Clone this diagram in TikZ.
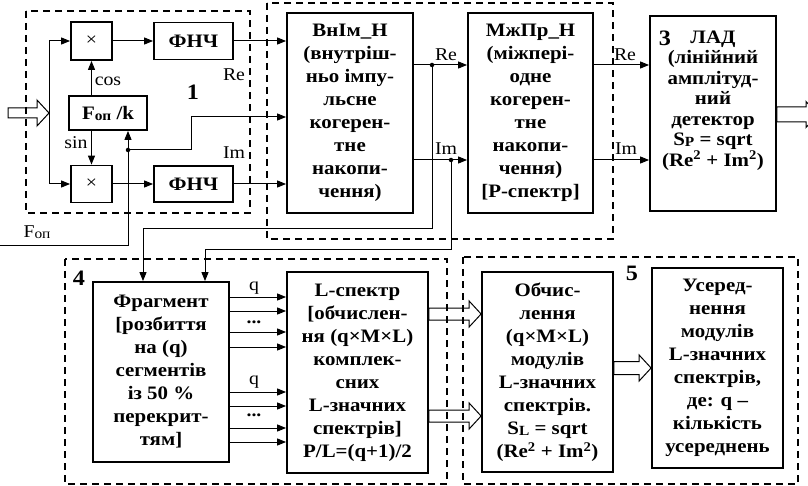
\documentclass[tikz,border=0pt]{standalone}
\usepackage{fontspec}
\setmainfont{Liberation Serif}[FakeStretch=1.1]
\usetikzlibrary{arrows.meta,calc}

\newcommand{\idx}[1]{\raisebox{-1pt}{\fontsize{14}{14}\selectfont #1}}
\newcommand{\fatarrow}[3]{%
  \draw[fat] let \p1=#1, \p2=#2 in
    (\x1,\y1+#3) -- (\x2-12pt,\y1+#3) -- (\x2-12pt,\y1+13pt) -- (\x2,\y1)
    -- (\x2-12pt,\y1-13pt) -- (\x2-12pt,\y1-#3) -- (\x1,\y1-#3) -- cycle;}

\begin{document}
\begin{tikzpicture}[x=1pt, y=-1pt,
    block/.style={draw, line width=1.8pt, inner sep=0pt, align=center,
      font=\bfseries\fontsize{19}{23}\selectfont},
    group/.style={draw, line width=1.4pt, dash pattern=on 7pt off 5pt},
    wire/.style={line width=1pt},
    arr/.style={wire, -{Triangle[length=9pt, width=7pt]}},
    fat/.style={line width=1pt},
    dot/.style={circle, fill, inner sep=0pt, minimum size=4.5pt},
    lbl/.style={font=\fontsize{18}{18}\selectfont},
    num/.style={font=\bfseries\fontsize{22}{22}\selectfont}]
    \useasboundingbox (0,0) rectangle (808,486);

    % groups
    \draw[group] (26,11) rectangle (250,213);
    \draw[group] (267,3) rectangle (613,239);
    \draw[group] (65,259) rectangle (447,484);
    \draw[group] (463,257) rectangle (798,484);
    \node[num] (num-1) at (193,92) {1};
    \node[num] (num-3) at (665,38) {3};
    \node[num] (num-4) at (79,278) {4};
    \node[num] (num-5) at (632,273) {5};

    % quadrature part
    \node[block, font=\fontsize{18}{18}\selectfont, minimum width=41pt, minimum height=38pt] (mul-re) at (91.5,41) {×};
    \node[block, minimum width=79pt, minimum height=37pt] (lpf-re) at (193.5,41) {ФНЧ};
    \node[block, minimum width=78pt, minimum height=34pt] (osc) at (108,113) {F\idx{оп} /k};
    \node[block, font=\fontsize{18}{18}\selectfont, minimum width=41pt, minimum height=37pt] (mul-im) at (91.5,184) {×};
    \node[block, minimum width=79pt, minimum height=36pt] (lpf-im) at (193.5,184) {ФНЧ};

    \coordinate (split) at (49,113);
    \fatarrow{(8,113)}{(split)}{5pt}
    \draw[arr] (split) |- (mul-re);
    \draw[arr] (split) |- (mul-im);
    \draw[arr] (osc.north -| mul-re) -- (mul-re);
    \draw[arr] (osc.south -| mul-im) -- (mul-im);
    \draw[arr] (mul-re) -- (lpf-re);
    \draw[arr] (mul-im) -- (lpf-im);
    \node[lbl] (cos) at (108,81) {cos};
    \node[lbl] (sin) at (76,143) {sin};

    \coordinate (fop-in) at (0,246);
    \node[lbl] (fop) at (37,232) {F\idx{оп}};
    \draw[arr] (fop-in) -| (osc.south -| 128,0);
    \node[dot] (fop-tap) at (128,150) {};

    % accumulation
    \node[block, minimum width=126pt, minimum height=200pt] (vnim) at (350,113)
      {ВнІм\_Н\\(внутріш-\\ньо імпу-\\льсне\\когерен-\\тне\\накопи-\\чення)};
    \node[block, minimum width=125pt, minimum height=200pt] (mzpr) at (530.5,113)
      {МжПр\_Н\\(міжпері-\\одне\\когерен-\\тне\\накопи-\\чення)\\{[}P-спектр{]}};
    \node[block, font=\bfseries\fontsize{19}{20.5}\selectfont, minimum width=126pt, minimum height=195pt] (lad) at (713,113.5)
      {ЛАД\\(лінійний\\амплітуд-\\ний\\детектор\\S\idx{P} = sqrt\\(Re\textsuperscript{2} + Im\textsuperscript{2})\\[10pt]\mbox{}};

    \draw[arr] (lpf-re) -- (lpf-re -| vnim.west);
    \draw[arr] (lpf-im) -- (lpf-im -| vnim.west);
    \draw[arr] (fop-tap.center) -- ++(63,0) |- (vnim.west |- 0,117);
    \node[lbl] (re-1) at (234,75) {Re};
    \node[lbl] (im-1) at (234,153) {Im};

    \node[dot] (re-tap) at (432,65) {};
    \node[dot] (im-tap) at (451,160) {};
    \draw[arr] (vnim.east |- re-tap) -- (mzpr.west |- re-tap);
    \draw[arr] (vnim.east |- im-tap) -- (mzpr.west |- im-tap);
    \node[lbl] (re-2) at (446,55) {Re};
    \node[lbl] (im-2) at (446,149) {Im};
    \draw[arr] (mzpr.east |- re-tap) -- (lad.west |- re-tap);
    \draw[arr] (mzpr.east |- im-tap) -- (lad.west |- im-tap);
    \node[lbl] (re-3) at (625,55) {Re};
    \node[lbl] (im-3) at (626,149) {Im};
    \fatarrow{(lad.east |- 0,114.5)}{(818,114.5)}{7.5pt}

    % L-spectra
    \node[block, minimum width=136pt, minimum height=180pt] (frag) at (161,372)
      {Фрагмент\\{[}розбиття\\на (q)\\сегментів\\із 50 \%\\перекрит-\\тям{]}};
    \node[block, minimum width=141pt, minimum height=201pt] (lspec) at (357.5,372.5)
      {L-спектр\\{[}обчислен-\\ня (q×M×L)\\комплек-\\сних\\L-значних\\спектрів{]}\\P/L=(q+1)/2};
    \draw[arr] (re-tap.center) |- (143,229) -- (frag.north -| 143,0);
    \draw[arr] (im-tap.center) |- (205,250) -- (frag.north -| 205,0);
    \foreach \yy in {297,311,332,347,392,406,428,442}
        \draw[arr] (frag.east |- 0,\yy) -- (lspec.west |- 0,\yy);
    \node[lbl] (q-1) at (254,288) {q};
    \node[lbl] (q-2) at (254,382) {q};
    \node[lbl, font=\bfseries\fontsize{18}{18}\selectfont] (dots-1) at (254,322) {...};
    \node[lbl, font=\bfseries\fontsize{18}{18}\selectfont] (dots-2) at (254,415) {...};

    % modules and averaging
    \node[block, minimum width=131pt, minimum height=200pt] (modul) at (547.5,372)
      {Обчис-\\лення\\(q×M×L)\\модулів\\L-значних\\спектрів.\\S\idx{L} = sqrt\\(Re\textsuperscript{2} + Im\textsuperscript{2})};
    \node[block, minimum width=131pt, minimum height=200pt] (avg) at (717.5,368)
      {Усеред-\\нення\\модулів\\L-значних\\спектрів,\\де: q –\\кількість\\усереднень};
    \fatarrow{(lspec.east |- 0,314)}{(modul.west |- 0,314)}{6pt}
    \fatarrow{(lspec.east |- 0,416)}{(modul.west |- 0,416)}{6pt}
    \fatarrow{(modul.east |- 0,368)}{(avg.west |- 0,368)}{6.5pt}
\end{tikzpicture}
\end{document}
